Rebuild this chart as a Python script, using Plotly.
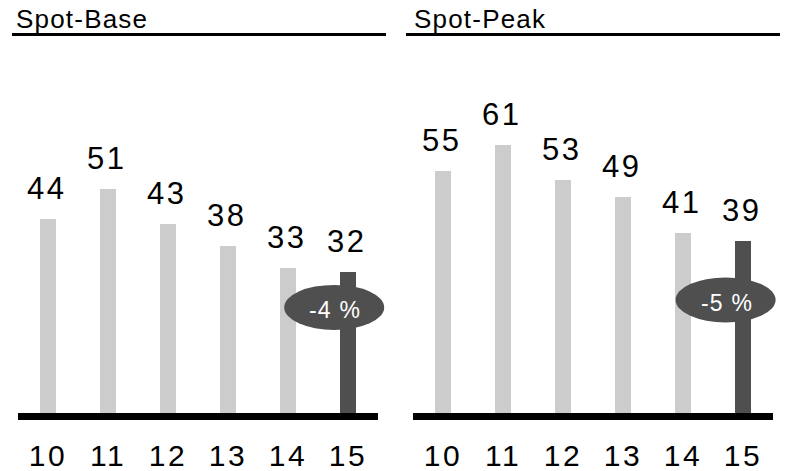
import plotly.graph_objects as go

# ---- data ----
categories = ["10", "11", "12", "13", "14", "15"]
base_values = [44, 51, 43, 38, 33, 32]
peak_values = [55, 61, 53, 49, 41, 39]
panel_titles = ["Spot-Base", "Spot-Peak"]
badge_labels = ["-4 %", "-5 %"]

# ---- style / layout constants (page pixel coords, body margin removed) ----
W, H = 787, 471
ML, MR, MT, MB = 18, 14, 61, 58
PW = W - ML - MR
PH = H - MT - MB
LIGHT = "#cccccc"
DARK = "#4f4f4f"
FONT = "Liberation Sans, Arial, sans-serif"
YMAX = 80


def px_x(px):
    return (px - ML) / PW


def px_y(py):
    return (H - MB - py) / PH


def spaced(t, s):
    return '<span style="letter-spacing:%spx">%s</span>' % (s, t)


domains = [[0, px_x(378)], [px_x(413), 1]]
fig = go.Figure()
series = [base_values, peak_values]
badge_y = [24, 25.7]
badge_dx = [-0.23, -0.29]
n = len(categories)

for i, vals in enumerate(series):
    xa = "x" if i == 0 else "x2"
    ya = "y" if i == 0 else "y2"
    colors = [LIGHT] * (len(vals) - 1) + [DARK]
    fig.add_trace(go.Bar(
        x=categories, y=vals, marker=dict(color=colors, line=dict(width=0)),
        width=0.27, xaxis=xa, yaxis=ya, showlegend=False, hoverinfo="skip",
    ))
    for j, v in enumerate(vals):
        fig.add_annotation(
            x=j, y=v, xref=xa, yref=ya, text=spaced(str(v), 2.5), showarrow=False,
            xanchor="center", yanchor="bottom", yshift=11, xshift=-2,
            font=dict(family=FONT, size=31, color="#000000"),
        )
    # badge (ellipse) positioned relative to the last bar, in domain units
    last = n - 1
    cx = (last + badge_dx[i] + 0.5) / n
    half_w = (50 / 60) / n
    half_h = 22.5 / PH
    cy = badge_y[i] / YMAX
    fig.add_shape(
        type="circle", xref=xa + " domain", yref=ya + " domain",
        x0=cx - half_w, x1=cx + half_w, y0=cy - half_h, y1=cy + half_h,
        fillcolor=DARK, line=dict(width=0), layer="above",
    )
    fig.add_annotation(
        x=cx, y=cy, xref=xa + " domain", yref=ya + " domain",
        xanchor="center", yanchor="middle",
        text=spaced(badge_labels[i], 1.2), showarrow=False, yshift=-3, xshift=1,
        font=dict(family=FONT, size=23, color="#ffffff"),
    )

# titles + underlines
title_x = [14, 412]
line_x = [(12, 386), (406, 780)]
for i in range(2):
    fig.add_annotation(
        x=px_x(title_x[i]), y=px_y(19), xref="paper", yref="paper",
        text=spaced(panel_titles[i], 1.2), showarrow=False,
        xanchor="left", yanchor="middle",
        font=dict(family=FONT, size=26, color="#000000"),
    )
    fig.add_shape(
        type="line", xref="paper", yref="paper",
        x0=px_x(line_x[i][0]), x1=px_x(line_x[i][1]),
        y0=px_y(34.5), y1=px_y(34.5),
        line=dict(color="#000000", width=3),
    )

xaxis_common = dict(
    type="category", range=[-0.5, 5.5], showgrid=False, zeroline=False,
    showline=True, linecolor="#000000", linewidth=7, automargin=False,
    ticks="outside", ticklen=10, tickcolor="rgba(0,0,0,0)",
    tickvals=categories, ticktext=[spaced(c, 2.5) for c in categories],
    tickfont=dict(family=FONT, size=30, color="#000000"),
    fixedrange=True,
)
yaxis_common = dict(range=[0, YMAX], visible=False, showgrid=False,
                    zeroline=False, fixedrange=True, automargin=False)

fig.update_layout(
    width=W, height=H,
    margin=dict(l=ML, r=MR, t=MT, b=MB, autoexpand=False),
    paper_bgcolor="#ffffff", plot_bgcolor="#ffffff",
    xaxis=dict(domain=domains[0], anchor="y", **xaxis_common),
    xaxis2=dict(domain=domains[1], anchor="y2", **xaxis_common),
    yaxis=dict(domain=[0, 1], anchor="x", **yaxis_common),
    yaxis2=dict(domain=[0, 1], anchor="x2", **yaxis_common),
    bargap=0,
)

fig.write_html(
    "out.html",
    config={"displayModeBar": False, "staticPlot": True},
    post_script="document.body.style.margin='0px';document.body.style.overflow='hidden';",
)
